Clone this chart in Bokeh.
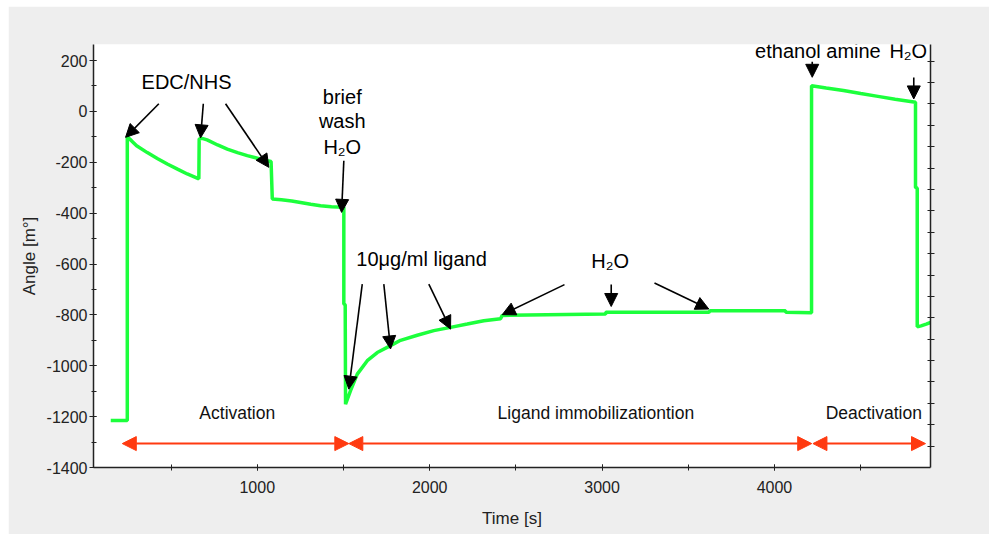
from bokeh.plotting import figure
from bokeh.models import (Range1d, LinearAxis, SingleIntervalTicker, FixedTicker,
                          Arrow, NormalHead, ColumnDataSource, PrintfTickFormatter)
from bokeh.core.properties import value
from bokeh.embed import file_html
from bokeh.resources import INLINE

# ---------------- data ----------------
time_s = [150, 246, 246, 270, 300, 362, 420, 478, 540, 594, 661,
          663, 680, 709, 770, 826, 885, 942, 1000, 1058, 1080,
          1087, 1140, 1200, 1251, 1310, 1367, 1430, 1502,
          1502, 1510, 1512,
          1541, 1580, 1638, 1696, 1773, 1831, 1928, 2024, 2121, 2218, 2314, 2411,
          2421, 3020, 3022, 3620, 3625, 4064, 4066, 4215,
          4215, 4300, 4400, 4500, 4600, 4700, 4818,
          4818, 4828, 4828, 4850, 4880, 4905]
angle_mdeg = [-1215, -1215, -100, -115, -135, -162, -185, -207, -228, -246, -265,
              -108, -106, -112, -132, -148, -162, -174, -184, -194, -197,
              -344, -347, -352, -358, -365, -371, -375, -377,
              -757, -760, -1151,
              -1098, -1033, -980, -948, -921, -900, -880, -862, -849, -836, -823, -815,
              -802, -797, -790, -790, -784, -784, -790, -792,
              101, 92, 82, 70, 59, 48, 36,
              -299, -302, -847, -843, -836, -830]

# black annotation arrows (tail -> head), data coordinates
arrow_x0 = [429, 687, 816, 1502, 1609, 1734, 1995, 2782, 3053, 3304, 4219, 4808]
arrow_y0 = [30, 30, 30, -194, -679, -679, -679, -681, -681, -675, 195, 133]
arrow_x1 = [236, 671, 1067, 1489, 1531, 1773, 2121, 2421, 3053, 3619, 4219, 4808]
arrow_y1 = [-102, -104, -220, -397, -1092, -934, -856, -799, -767, -777, 134, 49]

# annotation labels
note_text = ["EDC/NHS", "brief", "wash", "H₂O", "10μg/ml ligand", "H₂O",
             "ethanol amine", "H₂O"]
note_x = [590, 1493, 1493, 1493, 1953, 3047, 4252, 4776]
note_y = [114, 55, -39, -141, -581, -587, 239, 239]

# phases (red double arrows)
phase_names = ["Activation", "Ligand immobilizationtion", "Deactivation"]
phase_start = [217, 1531, 4223]
phase_end = [1531, 4216, 4876]
phase_label_x = [884, 2964, 4576]
phase_label_y = [-1184, -1184, -1186]
phase_arrow_y = [-1306, -1306, -1306]

# ---------------- figure ----------------
FONT = "Liberation Sans"

p = figure(width=981, height=528, output_backend="svg", toolbar_location=None,
           x_range=Range1d(50, 4905), y_range=Range1d(-1400, 263),
           min_border_left=85, min_border_top=38, min_border_right=59,
           min_border_bottom=67)
p.styles = {"margin-left": "8px", "margin-top": "6px"}
p.border_fill_color = "#eeeeee"
p.background_fill_color = "white"
p.outline_line_color = None
p.xgrid.visible = False
p.ygrid.visible = False

p.line(time_s, angle_mdeg, line_color="#1cff3c", line_width=3.5)

# axes styling
for ax in (p.xaxis[0], p.yaxis[0]):
    ax.axis_line_color = "#222222"
    ax.axis_line_width = 1.5
    ax.major_tick_line_color = "#222222"
    ax.minor_tick_line_color = "#222222"
    ax.major_label_text_font = FONT
    ax.major_label_text_font_size = "16px"
    ax.major_label_text_color = "#222222"
    ax.axis_label_text_font = FONT
    ax.axis_label_text_font_size = "17px"
    ax.axis_label_text_font_style = "normal"
    ax.axis_label_text_color = "#222222"

p.xaxis[0].ticker = SingleIntervalTicker(interval=1000, num_minor_ticks=2)
p.xaxis[0].formatter = PrintfTickFormatter(format="%d")
p.xaxis[0].major_tick_in = 3
p.xaxis[0].major_tick_out = 3
p.xaxis[0].minor_tick_in = 3
p.xaxis[0].minor_tick_out = 3
p.xaxis[0].major_label_standoff = 10
p.xaxis[0].axis_label = "Time [s]"
p.xaxis[0].axis_label_standoff = 13

p.yaxis[0].ticker = SingleIntervalTicker(interval=200, num_minor_ticks=2)
p.yaxis[0].formatter = PrintfTickFormatter(format="%d")
p.yaxis[0].major_tick_in = 3
p.yaxis[0].major_tick_out = 4
p.yaxis[0].minor_tick_in = 3
p.yaxis[0].minor_tick_out = 2
p.yaxis[0].major_label_standoff = 2
p.yaxis[0].axis_label = "Angle [m°]"
p.yaxis[0].axis_label_standoff = 5

# unlabeled right axis with its own tick spacing
p.extra_y_ranges = {"r": Range1d(0, 19.78)}
rax = LinearAxis(y_range_name="r", ticker=FixedTicker(ticks=list(range(1, 20))),
                 major_label_text_font_size="0px", major_tick_in=3, major_tick_out=4,
                 minor_tick_line_color=None, axis_line_color="#222222",
                 axis_line_width=1.5, major_tick_line_color="#222222")
p.add_layout(rax, "right")

# annotation arrows
asrc = ColumnDataSource(dict(x0=arrow_x0, y0=arrow_y0, x1=arrow_x1, y1=arrow_y1))
p.add_layout(Arrow(source=asrc, x_start="x0", y_start="y0", x_end="x1", y_end="y1",
                   line_color="black", line_width=1.6,
                   end=NormalHead(size=13, fill_color="black", line_color="black")))

# annotation texts
p.text(note_x, note_y, text=note_text, text_font=value(FONT),
       text_font_size=value("20px"), text_align="center", text_baseline="middle",
       text_color="black")

# phases
psrc = ColumnDataSource(dict(x0=phase_start, x1=phase_end, y=phase_arrow_y))
p.add_layout(Arrow(source=psrc, x_start="x0", y_start="y", x_end="x1", y_end="y",
                   line_color="#ff3a10", line_width=2,
                   start=NormalHead(size=14, fill_color="#ff3a10", line_color="#ff3a10"),
                   end=NormalHead(size=14, fill_color="#ff3a10", line_color="#ff3a10")))
p.text(phase_label_x, phase_label_y, text=phase_names, text_font=value(FONT),
       text_font_size=value("17.5px"), text_align="center", text_baseline="middle",
       text_color="#111111")

open("out.html", "w").write(file_html(p, INLINE))
